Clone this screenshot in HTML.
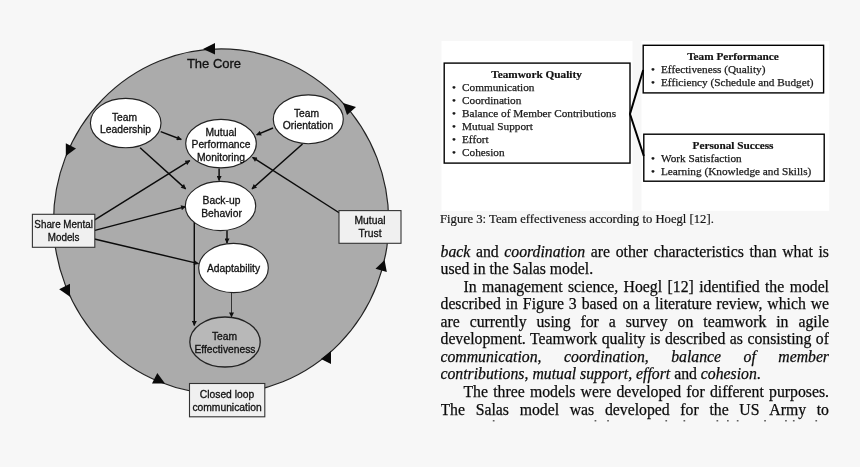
<!DOCTYPE html>
<html><head><meta charset="utf-8">
<style>
html,body{margin:0;padding:0;}
body{width:860px;height:467px;background:#f7f7f7;position:relative;overflow:hidden;font-family:"Liberation Serif",serif;color:#1c1c1c;}
svg{position:absolute;left:0;top:0;}
#wrap{position:absolute;left:0;top:0;width:860px;height:467px;filter:blur(0.3px);}
.sans{font-family:"Liberation Sans",sans-serif;font-size:10.3px;fill:#111;stroke:#111;stroke-width:0.3px;text-anchor:middle;}
.fig{font-family:"Liberation Serif",serif;font-size:11.25px;fill:#1a1a1a;stroke:#1a1a1a;stroke-width:0.25px;}
.figb{font-family:"Liberation Serif",serif;font-size:11.25px;font-weight:bold;fill:#111;text-anchor:middle;stroke:#111;stroke-width:0.2px;}
#cap{position:absolute;left:440px;top:210.5px;font-size:12.68px;line-height:17px;white-space:nowrap;color:#151515;-webkit-text-stroke:0.2px #151515;}
#txt{position:absolute;left:440.5px;top:0;width:388.5px;height:422px;overflow:hidden;font-size:15.75px;line-height:17.53px;color:#0c0c0c;-webkit-text-stroke:0.25px #0c0c0c;}
#txt div{position:absolute;left:0;width:388.5px;text-align:justify;text-align-last:justify;white-space:nowrap;height:17.53px;}
#txt div.l{text-align-last:left;}
#txt div.i{text-indent:23px;}
</style></head><body>
<div id="wrap">
<svg width="860" height="467" viewBox="0 0 860 467">
<defs>
<marker id="a" viewBox="0 0 10 10" refX="9" refY="5" markerWidth="6" markerHeight="5" markerUnits="userSpaceOnUse" orient="auto"><path d="M0,0 L10,5 L0,10 z" fill="#111"/></marker>
</defs>
<!-- big circle -->
<ellipse cx="221.1" cy="221.4" rx="167.6" ry="172.5" fill="#ababab" stroke="#222" stroke-width="1.2"/>
<!-- arrowheads on circle -->
<g fill="#0a0a0a">
<polygon points="203,49 215,43 215,54.5"/>
<polygon points="343,103 356,107 347,115"/>
<polygon points="384.6,260 375.5,268.7 386.8,272"/>
<polygon points="331,351 321,359 331,364"/>
<polygon points="157.3,373 152,383.5 165,383.5"/>
<polygon points="59.2,289.2 70,283.8 70,296.7"/>
<polygon points="65.8,143.2 76,148.5 65.8,156"/>
</g>
<!-- arrows -->
<g stroke="#0a0a0a" stroke-width="1.45" fill="none" marker-end="url(#a)">
<line x1="160.7" y1="131.6" x2="181.3" y2="139.5"/>
<line x1="140.1" y1="147.8" x2="185.7" y2="188.9"/>
<line x1="93.9" y1="220.3" x2="189.8" y2="160.6"/>
<line x1="93.9" y1="230.6" x2="185.6" y2="206.6"/>
<line x1="94.4" y1="239" x2="198.5" y2="263.6"/>
<line x1="219.1" y1="168.6" x2="219.1" y2="180.4"/>
<line x1="273" y1="128" x2="256.6" y2="134.9"/>
<line x1="302.5" y1="144" x2="252" y2="188.9"/>
<line x1="339.5" y1="213" x2="252.5" y2="157.3"/>
<line x1="227" y1="230" x2="227" y2="243"/>
<line x1="194.3" y1="222" x2="194.3" y2="325.4"/>
<line x1="231.5" y1="293" x2="231.5" y2="317" stroke-width="1" stroke="#333"/>
</g>
<!-- ellipses -->
<g fill="#fff" stroke="#222" stroke-width="1.15">
<ellipse cx="125.7" cy="123.1" rx="35.3" ry="24.7"/>
<ellipse cx="308.3" cy="119.3" rx="35" ry="24.4"/>
<ellipse cx="221" cy="143.6" rx="35.3" ry="24.3"/>
<ellipse cx="220.5" cy="206" rx="35.2" ry="24.6"/>
<ellipse cx="233.5" cy="268" rx="34.8" ry="24.6"/>
<ellipse cx="225" cy="342" rx="35.2" ry="25" fill="#b8b8b8" stroke-width="1.3"/>
</g>
<!-- boxes -->
<g fill="#f0f0f0" stroke="#333" stroke-width="1.1">
<rect x="32.4" y="214.3" width="62.4" height="33"/>
<rect x="339" y="210.6" width="62" height="32.7"/>
<rect x="189.5" y="383.5" width="75.3" height="33.3"/>
</g>
<!-- labels -->
<text x="214" y="68.3" class="sans" style="font-size:13px">The Core</text>
<text class="sans"><tspan x="124.5" y="120.5">Team</tspan><tspan x="125.5" y="133">Leadership</tspan></text>
<text class="sans"><tspan x="306.5" y="116.5">Team</tspan><tspan x="308" y="129">Orientation</tspan></text>
<text class="sans"><tspan x="221" y="135.5">Mutual</tspan><tspan x="221" y="148">Performance</tspan><tspan x="221" y="160.5">Monitoring</tspan></text>
<text class="sans"><tspan x="221.5" y="204">Back-up</tspan><tspan x="221.5" y="216.5">Behavior</tspan></text>
<text class="sans"><tspan x="233.5" y="271.5">Adaptability</tspan></text>
<text class="sans"><tspan x="224.5" y="340">Team</tspan><tspan x="225" y="352.5">Effectiveness</tspan></text>
<text class="sans" transform="translate(63.6 0) scale(0.955 1)"><tspan x="0" y="228.4">Share Mental</tspan><tspan x="0" y="240.9">Models</tspan></text>
<text class="sans"><tspan x="370" y="224.4">Mutual</tspan><tspan x="370" y="236.9">Trust</tspan></text>
<text class="sans"><tspan x="227" y="398.3">Closed loop</tspan><tspan x="227" y="410.8">communication</tspan></text>

<!-- figure 3 -->
<rect x="441.5" y="41" width="191" height="169.8" fill="#fff"/>
<rect x="641.5" y="41" width="187.7" height="169.8" fill="#fff"/>
<g fill="none" stroke="#000" stroke-width="1.4">
<rect x="444.2" y="63.1" width="185.8" height="100"/>
<rect x="643.2" y="45.3" width="180.4" height="47.6"/>
<rect x="643.8" y="134.2" width="180.4" height="47"/>
<polyline points="643.2,70 630,114 643.8,156" stroke-width="2"/>
</g>
<text x="536.5" y="78" class="figb">Teamwork Quality</text>
<g class="fig" transform="translate(0 -0.1)">
<text x="452" y="91.5">•</text><text x="462" y="91.5">Communication</text>
<text x="452" y="104.5">•</text><text x="462" y="104.5">Coordination</text>
<text x="452" y="117.5">•</text><text x="462" y="117.5">Balance of Member Contributions</text>
<text x="452" y="130.5">•</text><text x="462" y="130.5">Mutual Support</text>
<text x="452" y="143.5">•</text><text x="462" y="143.5">Effort</text>
<text x="452" y="156.5">•</text><text x="462" y="156.5">Cohesion</text>
</g>
<text x="733" y="60" class="figb">Team Performance</text>
<g class="fig" transform="translate(0 -0.1)">
<text x="651" y="73">•</text><text x="661" y="73">Effectiveness (Quality)</text>
<text x="651" y="86">•</text><text x="661" y="86">Efficiency (Schedule and Budget)</text>
</g>
<text x="733" y="149" class="figb">Personal Success</text>
<g class="fig" transform="translate(0 -0.1)">
<text x="651" y="162">•</text><text x="661" y="162">Work Satisfaction</text>
<text x="651" y="175">•</text><text x="661" y="175">Learning (Knowledge and Skills)</text>
</g>
<g fill="#3a3a3a"><rect x="492.8" y="420.2" width="1.7" height="1.2"/><rect x="594.6" y="420.2" width="1.7" height="1.2"/><rect x="607.2" y="420.2" width="1.7" height="1.2"/><rect x="665.4" y="420.2" width="1.7" height="1.2"/><rect x="683.5" y="420.2" width="1.7" height="1.2"/><rect x="716.5" y="420.2" width="1.7" height="1.2"/><rect x="727.0" y="420.2" width="1.7" height="1.2"/><rect x="736.8" y="420.2" width="1.7" height="1.2"/><rect x="764.2" y="420.2" width="1.7" height="1.2"/><rect x="785.1" y="420.2" width="1.7" height="1.2"/><rect x="792.9" y="420.2" width="1.7" height="1.2"/><rect x="815.4" y="420.2" width="1.7" height="1.2"/></g>
</svg>
<div id="cap">Figure 3: Team effectiveness according to Hoegl [12].</div>
<div id="txt">
<div class="" style="top:243.12px"><i>back</i> and <i>coordination</i> are other characteristics than what is</div>
<div class="l" style="top:259.62px">used in the Salas model.</div>
<div class="i" style="top:277.82px">In management science, Hoegl [12] identified the model</div>
<div class="" style="top:294.92px">described in Figure 3 based on a literature review, which we</div>
<div class="" style="top:312.62px">are currently using for a survey on teamwork in agile</div>
<div class="" style="top:329.92px">development. Teamwork quality is described as consisting of</div>
<div class="" style="top:347.92px"><i>communication</i>, <i>coordination</i>, <i>balance of member</i></div>
<div class="l" style="top:364.62px"><i>contributions</i>, <i>mutual support</i>, <i>effort</i> and <i>cohesion</i>.</div>
<div class="i" style="top:382.52px">The three models were developed for different purposes.</div>
<div class="" style="top:400.92px">The Salas model was developed for the US Army to</div>
</div>
</div>
</body></html>
